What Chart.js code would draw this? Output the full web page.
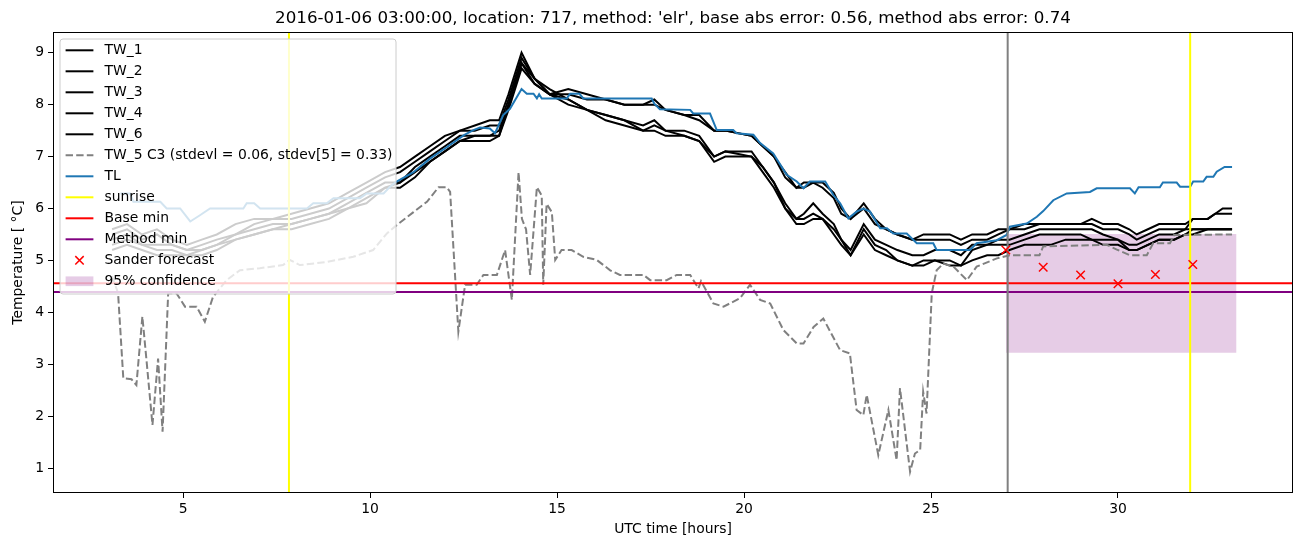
<!DOCTYPE html>
<html>
<head>
<meta charset="utf-8">
<script src="https://cdn.jsdelivr.net/npm/chart.js@4.4.0/dist/chart.umd.min.js"></script>
<style>
  html, body { margin: 0; padding: 0; background: #fff; }
  canvas { display: block; }
</style>
</head>
<body>
<canvas id="chart" width="1302" height="547"></canvas>
<script>
// --- data ---
const blackHours = [3.1,3.5,3.9,4.3,4.7,5.1,5.5,5.9,6.4,6.9,7.4,7.9,8.4,8.9,9.4,9.9,10.4,10.8,11.2,11.6,
  12.0,12.4,12.8,13.2,13.45,13.7,14.05,14.4,14.8,15.3,15.8,16.3,16.8,17.3,17.6,17.9,18.4,18.8,19.2,19.5,
  20.2,20.5,20.8,21.1,21.4,21.6,21.85,22.1,22.4,22.6,22.85,23.2,23.5,23.8,24.1,24.5,24.8,25.1,25.5,25.8,
  26.1,26.5,26.8,27.1,27.5,27.9,28.2,28.6,29.0,29.3,29.6,30.0,30.3,30.5,30.8,31.1,31.5,31.8,32.0,32.4,
  32.6,32.8,33.05];
const tw1 = [5.6,5.7,5.5,5.6,5.4, 5.3,5.4,5.5,5.7,5.8, 5.8,5.9,6.0,6.1,6.3, 6.5,6.7,6.8,7.0,7.2,
  7.4,7.5,7.6,7.7,7.7, 8.2,9.0,8.5,8.2,8.3, 8.2,8.1,8.0,8.0,8.1, 7.9,7.8,7.8,7.5,7.5,
  7.4,7.2,7.0,6.7,6.4, 6.5,6.5,6.5,6.3,6.0, 5.8,6.1,5.8,5.6,5.5, 5.4,5.5,5.5,5.5,5.4,
  5.5,5.5,5.6,5.6,5.6, 5.7,5.7,5.7,5.7,5.8, 5.7,5.7,5.6,5.5,5.6, 5.7,5.7,5.7,5.8,5.8,
  5.9,6.0,6.0];
const tw2 = [5.5,5.6,5.4,5.5,5.3, 5.2,5.3,5.4,5.5,5.7, 5.8,5.8,5.9,6.0,6.2, 6.4,6.6,6.7,6.9,7.1,
  7.3,7.5,7.5,7.6,7.6, 8.1,8.9,8.5,8.2,8.2, 8.1,8.1,8.0,8.0,8.0, 7.9,7.8,7.7,7.5,7.5,
  7.4,7.2,7.0,6.6,6.4, 6.4,6.5,6.4,6.2,5.9, 5.8,6.0,5.7,5.6,5.5, 5.4,5.4,5.4,5.4,5.3,
  5.4,5.4,5.5,5.6,5.7, 5.7,5.7,5.7,5.7,5.7, 5.6,5.6,5.5,5.4,5.5, 5.6,5.6,5.6,5.8,5.8,
  5.9,5.9,5.9];
const tw3 = [5.4,5.5,5.3,5.3,5.3, 5.2,5.2,5.3,5.5,5.6, 5.7,5.7,5.8,5.9,6.1, 6.3,6.5,6.5,6.8,7.0,
  7.2,7.4,7.4,7.4,7.5, 8.0,8.8,8.5,8.3,8.1, 7.9,7.8,7.7,7.6,7.7, 7.5,7.5,7.4,7.0,7.1,
  7.1,6.8,6.5,6.1,5.8, 5.9,6.1,5.9,5.7,5.4, 5.2,5.7,5.4,5.3,5.2, 5.1,5.1,5.2,5.2,5.1,
  5.3,5.3,5.4,5.4,5.5, 5.6,5.6,5.6,5.6,5.6, 5.5,5.4,5.3,5.3,5.4, 5.5,5.5,5.6,5.6,5.6,
  5.6,5.6,5.6];
const tw4 = [5.3,5.4,5.3,5.2,5.2, 5.1,5.2,5.3,5.4,5.5, 5.6,5.7,5.8,5.9,6.0, 6.2,6.4,6.5,6.7,6.9,
  7.1,7.3,7.4,7.4,7.4, 8.0,8.8,8.4,8.2,8.1, 7.9,7.8,7.7,7.5,7.6, 7.5,7.4,7.3,7.0,7.1,
  7.0,6.8,6.5,6.0,5.8, 5.8,5.9,5.8,5.6,5.4, 5.1,5.6,5.3,5.2,5.0, 4.9,5.0,5.0,5.0,4.9,
  5.2,5.3,5.3,5.3,5.4, 5.5,5.5,5.5,5.5,5.4, 5.4,5.4,5.2,5.2,5.3, 5.4,5.4,5.5,5.6,5.6,
  5.6,5.6,5.6];
const tw6 = [5.2,5.3,5.2,5.1,5.1, 5.1,5.1,5.2,5.4,5.5, 5.6,5.6,5.7,5.8,6.0, 6.1,6.4,6.4,6.6,6.9,
  7.1,7.3,7.3,7.3,7.4, 7.9,8.7,8.4,8.2,8.0, 7.9,7.7,7.6,7.5,7.5, 7.4,7.4,7.3,6.9,7.0,
  7.0,6.7,6.4,6.0,5.7, 5.7,5.8,5.8,5.5,5.3, 5.1,5.5,5.2,5.1,5.0, 4.9,4.9,5.0,4.9,4.9,
  5.0,5.1,5.1,5.2,5.3, 5.3,5.3,5.4,5.4,5.4, 5.3,5.3,5.2,5.2,5.3, 5.4,5.4,5.5,5.5,5.6,
  5.6,5.6,5.6];

const tw5Hours = [3.1,3.26,3.4,3.62,3.75,3.91,4.02,4.18,4.33,4.45,4.6,4.82,5.05,5.36,5.58,5.8,6.16,6.52,7.05,7.67,
  7.85,8.12,8.83,9.55,10.08,10.45,10.71,11.16,11.52,11.83,12.05,12.14,12.36,12.54,12.85,13.03,13.39,13.61,13.79,13.97,
  14.06,14.17,14.28,14.46,14.59,14.63,14.72,14.86,14.95,15.12,15.39,15.7,16.06,16.42,16.68,17.31,17.49,17.93,18.2,18.56,
  18.78,18.85,19.18,19.45,19.89,20.16,20.43,20.7,21.05,21.41,21.59,21.86,22.12,22.57,22.83,23.01,23.19,23.28,23.59,23.86,
  24.08,24.17,24.44,24.57,24.71,24.79,24.88,25.02,25.15,25.33,25.6,25.96,26.22,26.76,27.11,27.9,28.0,29.7,30.0,30.32,
  30.77,30.94,31.39,31.5,33.05];
const tw5 = [4.7,4.37,2.73,2.71,2.6,3.92,3.08,1.83,3.11,1.7,4.37,4.37,4.11,4.11,3.82,4.3,4.62,4.81,4.85,4.91,
  5.01,4.91,4.97,5.07,5.2,5.52,5.68,5.93,6.13,6.41,6.41,6.32,3.63,4.53,4.53,4.72,4.72,5.2,4.24,6.7,
  5.8,5.6,4.72,6.41,6.25,4.53,6.09,5.93,5.01,5.2,5.2,5.07,5.01,4.81,4.72,4.72,4.62,4.62,4.72,4.72,
  4.46,4.6,4.17,4.11,4.27,4.53,4.24,4.17,3.66,3.4,3.4,3.72,3.88,3.27,3.21,2.12,2.02,2.41,1.25,2.12,
  1.15,2.54,0.93,1.28,1.35,2.47,2.05,4.37,4.81,4.94,4.88,4.62,4.88,5.04,5.1,5.1,5.27,5.3,5.2,5.1,
  5.1,5.33,5.33,5.49,5.5];

const tlHours = [3.32,3.58,3.67,4.39,4.56,4.92,5.19,5.45,5.72,6.61,6.7,6.9,7.06,8.31,8.48,8.84,9.02,9.73,9.91,10.36,
  10.53,10.71,11.16,11.6,12.05,12.5,12.76,12.94,13.2,13.34,13.56,13.74,14.05,14.19,14.37,14.46,14.52,14.59,15.26,15.35,
  15.6,15.7,17.53,17.6,17.75,18.56,18.64,19.09,19.27,19.71,19.8,20.25,20.43,20.78,21.14,21.41,21.59,21.76,22.17,22.39,
  22.57,22.79,23.01,23.19,23.37,23.64,23.82,23.99,24.35,24.62,25.06,25.15,26.04,26.22,26.76,27.02,27.11,27.56,27.83,28.0,
  28.27,28.63,29.25,29.43,30.32,30.45,30.55,31.12,31.2,31.57,31.66,31.93,32.01,32.28,32.37,32.55,32.64,32.85,33.05];
const tl = [6.29,6.29,6.13,6.13,6.0,6.0,5.75,5.87,6.0,6.0,6.1,6.1,6.0,6.0,6.1,6.1,6.2,6.2,6.29,6.29,
  6.42,6.52,6.7,6.96,7.18,7.41,7.51,7.56,7.54,7.45,7.8,7.92,8.3,8.21,8.21,8.12,8.2,8.12,8.12,8.21,
  8.21,8.12,8.12,8.02,7.91,7.9,7.83,7.83,7.51,7.51,7.45,7.42,7.26,7.06,6.65,6.52,6.39,6.52,6.52,6.26,
  6.1,5.81,5.94,6.0,5.94,5.62,5.62,5.52,5.52,5.33,5.33,5.2,5.2,5.33,5.39,5.49,5.65,5.71,5.84,5.95,
  6.16,6.29,6.32,6.39,6.39,6.29,6.41,6.41,6.5,6.5,6.42,6.42,6.52,6.52,6.61,6.61,6.71,6.8,6.8];

const sunriseHours = [7.83, 31.93];
const forecastHour = 27.05;
const baseMin = 4.56;
const methodMin = 4.39;
const sanderHours = [27, 28, 29, 30, 31, 32];
const sanderTemps = [5.2, 4.87, 4.72, 4.55, 4.73, 4.92];
const confHours = [27, 33.17];
const confLow = 3.22;
const confHigh = 5.51;

const xTicks = [5, 10, 15, 20, 25, 30];
const yTicks = [1, 2, 3, 4, 5, 6, 7, 8, 9];
const xMin = 1.52, xMax = 34.68, yMin = 0.52, yMax = 9.4;

const titleText = "2016-01-06 03:00:00, location: 717, method: 'elr', base abs error: 0.56, method abs error: 0.74";

// --- helpers ---
const pts = (xs, ys) => xs.map((x, i) => ({ x, y: ys[i] }));
const vline = h => [{ x: h, y: yMin }, { x: h, y: yMax }];
const hline = v => [{ x: xMin, y: v }, { x: xMax, y: v }];

const FONT = 'DejaVu Sans';
Chart.defaults.font.family = FONT;
Chart.defaults.color = '#000';

function lineSet(label, data, color, order, extra) {
  return Object.assign({
    label, data, borderColor: color, backgroundColor: color, borderWidth: 2,
    pointRadius: 0, fill: false, order, legendKind: 'line'
  }, extra || {});
}

const datasets = [
  lineSet('TW_1', pts(blackHours, tw1), '#000', 5),
  lineSet('TW_2', pts(blackHours, tw2), '#000', 5),
  lineSet('TW_3', pts(blackHours, tw3), '#000', 5),
  lineSet('TW_4', pts(blackHours, tw4), '#000', 5),
  lineSet('TW_6', pts(blackHours, tw6), '#000', 5),
  lineSet('TW_5 C3 (stdevl = 0.06, stdev[5] = 0.33)', pts(tw5Hours, tw5), '#808080', 4, { borderDash: [7.4, 3.2] }),
  lineSet('TL', pts(tlHours, tl), '#1f77b4', 3),
  lineSet('sunrise', vline(sunriseHours[0]), '#ffff00', 1),
  lineSet('sunrise', vline(sunriseHours[1]), '#ffff00', 1, { legendKind: null }),
  lineSet('Base min', hline(baseMin), '#ff0000', 2),
  lineSet('Method min', hline(methodMin), '#800080', 2),
  lineSet('forecast time', vline(forecastHour), '#808080', 1, { legendKind: null }),
  {
    label: 'Sander forecast', data: pts(sanderHours, sanderTemps), showLine: false,
    pointStyle: 'crossRot', pointRadius: 6, pointBorderColor: '#ff0000', pointBorderWidth: 1.5,
    pointBackgroundColor: '#ff0000', order: 0, legendKind: 'marker'
  },
  {
    label: '95% confidence', data: confHours.map(x => ({ x, y: confHigh })),
    borderWidth: 0, pointRadius: 0, backgroundColor: 'rgba(128,0,128,0.2)',
    fill: { value: confLow }, order: 10, legendKind: 'patch'
  }
];

// legend inside the axes, title centred on the axes, full frame
const mplDecor = {
  id: 'mplDecor',
  afterDatasetsDraw(chart) {
    const { ctx, chartArea: a } = chart;
    const items = chart.data.datasets.filter(d => d.legendKind);
    const x0 = a.left + 7, y0 = a.top + 7, w = 336, h = 255;
    ctx.save();
    ctx.beginPath();
    ctx.roundRect(x0, y0, w, h, 3);
    ctx.fillStyle = 'rgba(255,255,255,0.8)';
    ctx.fill();
    ctx.strokeStyle = '#cccccc';
    ctx.lineWidth = 1;
    ctx.stroke();
    ctx.font = '13.9px "' + FONT + '"';
    ctx.textBaseline = 'middle';
    items.forEach((d, i) => {
      const y = y0 + 11.3 + i * 21.0;
      const hx0 = x0 + 5.6, hx1 = hx0 + 27.8;
      if (d.legendKind === 'line') {
        ctx.strokeStyle = d.borderColor;
        ctx.lineWidth = 2;
        ctx.setLineDash(d.borderDash || []);
        ctx.beginPath(); ctx.moveTo(hx0, y); ctx.lineTo(hx1, y); ctx.stroke();
        ctx.setLineDash([]);
      } else if (d.legendKind === 'marker') {
        const cx = (hx0 + hx1) / 2, r = 4.2;
        ctx.strokeStyle = d.pointBorderColor;
        ctx.lineWidth = 1.5;
        ctx.beginPath();
        ctx.moveTo(cx - r, y - r); ctx.lineTo(cx + r, y + r);
        ctx.moveTo(cx - r, y + r); ctx.lineTo(cx + r, y - r);
        ctx.stroke();
      } else {
        ctx.fillStyle = d.backgroundColor;
        ctx.fillRect(hx0, y - 4.9, hx1 - hx0, 9.7);
      }
      ctx.fillStyle = '#000';
      ctx.fillText(d.label, hx1 + 11.1, y + 0.5);
    });
    ctx.restore();
  },
  afterDraw(chart) {
    const { ctx, chartArea: a } = chart;
    const L = Math.round(a.left), T = Math.round(a.top), R = Math.round(a.right), B = Math.round(a.bottom);
    ctx.save();
    ctx.setLineDash([]);
    ctx.fillStyle = '#000';
    // axes box (matplotlib spines)
    ctx.fillRect(L, T, R - L, 1);
    ctx.fillRect(L, B - 1, R - L, 1);
    ctx.fillRect(L, T, 1, B - T);
    ctx.fillRect(R - 1, T, 1, B - T);
    ctx.font = '16.7px "' + FONT + '"';
    ctx.textAlign = 'center';
    ctx.textBaseline = 'alphabetic';
    ctx.fillText(titleText, (a.left + a.right) / 2, 23);
    ctx.restore();
  }
};

const tickFont = { family: FONT, size: 13.9 };

new Chart(document.getElementById('chart'), {
  type: 'line',
  data: { datasets },
  options: {
    responsive: false,
    animation: false,
    devicePixelRatio: 1,
    layout: { padding: { top: 32, right: 9, left: 0, bottom: 0 } },
    plugins: { legend: { display: false }, tooltip: { enabled: false }, title: { display: false } },
    scales: {
      x: {
        type: 'linear', min: xMin, max: xMax,
        afterBuildTicks: s => { s.ticks = xTicks.map(v => ({ value: v })); },
        afterFit: s => { s.height = 54; },
        grid: { drawOnChartArea: false, drawTicks: true, tickLength: 5, color: '#000', lineWidth: 1 },
        border: { display: false },
        ticks: { color: '#000', font: tickFont, padding: 3, maxRotation: 0, autoSkip: false, callback: v => String(v) },
        title: { display: true, text: 'UTC time [hours]', color: '#000', font: tickFont, padding: { top: 0, bottom: 9.7 } }
      },
      y: {
        type: 'linear', min: yMin, max: yMax,
        afterBuildTicks: s => { s.ticks = yTicks.map(v => ({ value: v })); },
        afterFit: s => { s.width = 53; },
        grid: { drawOnChartArea: false, drawTicks: true, tickLength: 5, color: '#000', lineWidth: 1 },
        border: { display: false },
        ticks: { color: '#000', font: tickFont, padding: 4, autoSkip: false, callback: v => String(v) },
        title: { display: true, text: 'Temperature [ °C]', color: '#000', font: tickFont, padding: { top: 9.7, bottom: 0 } }
      }
    }
  },
  plugins: [mplDecor]
});
</script>
</body>
</html>
